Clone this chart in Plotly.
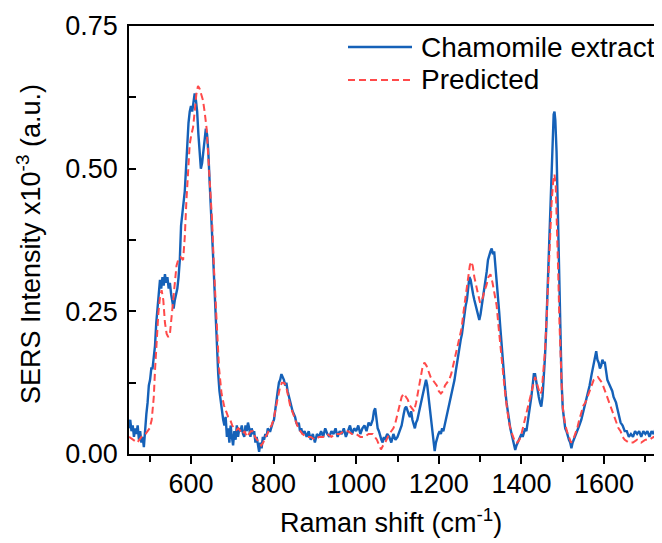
import plotly.graph_objects as go

# ---- Data ----
extract_x = [450,453,456,459,462,465,468,471,474,477,480,483,486,489,492,495,498,501,504,507,
             510,513,516,519,522,525,528,531,534,537,540,543,546,549,552,555,558,561,564,567,
             570,573,576,579,582,585,588,591,594,597,600,603,606,609,612,615,618,621,624,627,
             630,633,636,639,642,645,648,651,654,657,660,663,666,669,672,675,678,681,684,687,
             690,693,696,699,702,705,708,711,714,717,720,723,726,729,732,735,738,741,744,747,
             750,753,756,759,762,765,768,771,774,777,780,783,786,789,792,795,798,801,804,807,
             810,813,816,819,822,825,828,831,834,837,840,843,846,849,852,855,858,861,864,867,
             870,875,880,885,890,895,900,905,910,915,920,925,930,935,940,945,950,955,960,965,
             970,975,980,985,990,995,1000,1005,1010,1015,1020,1025,1030,1035,1040,1043,1046,1049,1052,1055,
             1058,1061,1064,1067,1070,1075,1080,1085,1090,1095,1100,1105,1110,1115,1118,1121,1124,1127,1130,1133,
             1136,1139,1142,1145,1148,1151,1154,1157,1160,1163,1166,1169,1172,1175,1178,1181,1184,1187,1190,1193,
             1196,1199,1202,1205,1208,1211,1214,1217,1220,1223,1226,1229,1232,1235,1238,1241,1244,1247,1250,1253,
             1256,1259,1262,1265,1268,1271,1274,1277,1280,1283,1286,1289,1292,1295,1298,1301,1304,1307,1310,1313,
             1316,1319,1322,1325,1328,1331,1334,1337,1340,1343,1346,1349,1352,1355,1358,1361,1364,1367,1370,1373,
             1376,1379,1382,1385,1388,1391,1394,1397,1400,1403,1406,1409,1412,1415,1418,1421,1424,1427,1430,1433,
             1436,1439,1442,1445,1448,1451,1454,1457,1460,1463,1466,1469,1472,1475,1478,1480,1482,1485,1488,1491,
             1494,1497,1500,1503,1506,1509,1512,1515,1518,1521,1524,1527,1530,1535,1540,1545,1550,1555,1560,1565,
             1570,1575,1578,1581,1584,1587,1590,1593,1596,1599,1602,1605,1608,1611,1614,1617,1620,1623,1626,1629,
             1632,1635,1640,1645,1650,1655,1660,1665,1670,1675,1680,1685,1690,1695,1700,1705,1710,1715,1720,1725,
             1730,1735]
extract_y = [0.045,0.06,0.04,0.05,0.03,0.045,0.035,0.05,0.025,0.04,0.02,0.03,0.012,0.05,0.07,0.09,0.12,0.13,0.15,0.15,
             0.17,0.19,0.23,0.26,0.29,0.305,0.29,0.31,0.295,0.315,0.30,0.31,0.29,0.30,0.28,0.27,0.255,0.27,0.28,0.29,
             0.31,0.34,0.40,0.42,0.43,0.46,0.50,0.55,0.58,0.60,0.61,0.60,0.62,0.632,0.62,0.60,0.56,0.53,0.50,0.51,
             0.53,0.55,0.57,0.56,0.53,0.48,0.44,0.40,0.34,0.29,0.23,0.18,0.14,0.11,0.09,0.07,0.06,0.05,0.065,0.03,
             0.045,0.02,0.05,0.03,0.015,0.04,0.025,0.05,0.03,0.045,0.04,0.05,0.035,0.03,0.05,0.04,0.055,0.045,0.03,0.045,
             0.035,0.04,0.02,0.03,0.015,0.004,0.02,0.01,0.03,0.025,0.035,0.03,0.045,0.04,0.04,0.05,0.055,0.06,0.08,0.095,
             0.11,0.125,0.13,0.14,0.135,0.13,0.12,0.125,0.11,0.10,0.09,0.085,0.075,0.07,0.065,0.055,0.05,0.055,0.04,0.045,
             0.035,0.04,0.03,0.04,0.025,0.035,0.02,0.035,0.03,0.04,0.03,0.045,0.035,0.03,0.04,0.035,0.045,0.03,0.04,0.035,
             0.045,0.03,0.04,0.05,0.035,0.045,0.04,0.05,0.035,0.045,0.05,0.04,0.055,0.05,0.06,0.075,0.08,0.06,0.045,0.04,
             0.03,0.025,0.02,0.03,0.025,0.035,0.03,0.02,0.035,0.025,0.03,0.04,0.05,0.07,0.08,0.083,0.075,0.07,0.065,0.075,
             0.06,0.05,0.045,0.055,0.06,0.07,0.08,0.09,0.10,0.115,0.125,0.13,0.12,0.10,0.08,0.06,0.04,0.02,0.005,0.02,
             0.03,0.035,0.04,0.035,0.045,0.04,0.05,0.06,0.065,0.08,0.09,0.10,0.11,0.12,0.13,0.145,0.16,0.175,0.19,0.20,
             0.21,0.23,0.24,0.26,0.27,0.29,0.31,0.305,0.29,0.28,0.27,0.26,0.255,0.24,0.235,0.245,0.26,0.27,0.29,0.30,
             0.32,0.34,0.35,0.355,0.36,0.35,0.355,0.33,0.31,0.29,0.25,0.22,0.19,0.16,0.13,0.11,0.09,0.07,0.06,0.045,
             0.035,0.03,0.02,0.007,0.015,0.02,0.025,0.03,0.035,0.03,0.04,0.045,0.04,0.055,0.065,0.08,0.10,0.12,0.14,0.14,
             0.125,0.11,0.10,0.09,0.083,0.10,0.13,0.17,0.22,0.28,0.34,0.41,0.49,0.55,0.595,0.60,0.585,0.53,0.42,0.30,
             0.20,0.13,0.08,0.06,0.045,0.04,0.03,0.025,0.02,0.01,0.02,0.025,0.03,0.04,0.05,0.06,0.075,0.085,0.10,0.12,
             0.14,0.16,0.175,0.18,0.165,0.16,0.15,0.155,0.165,0.16,0.16,0.14,0.13,0.125,0.12,0.115,0.11,0.10,0.095,0.09,
             0.08,0.07,0.055,0.05,0.04,0.04,0.03,0.035,0.03,0.04,0.035,0.04,0.03,0.04,0.035,0.04,0.03,0.04,0.035,0.045,
             0.035,0.04]

predicted_x = [450,460,470,480,490,495,500,505,510,513,517,521,525,529,533,537,541,545,549,553,
               557,561,565,569,575,581,585,589,593,597,601,605,609,613,617,621,625,629,633,638,
               642,646,651,656,662,668,674,680,685,690,695,700,705,710,715,720,725,730,735,740,
               745,750,755,760,765,770,775,780,785,790,795,800,805,810,815,820,825,830,835,840,
               845,850,855,860,870,880,890,900,910,920,930,940,950,960,970,980,990,1000,1010,1020,
               1030,1040,1050,1055,1060,1065,1070,1080,1090,1095,1100,1105,1110,1115,1120,1125,1130,1135,1140,1145,
               1150,1155,1160,1165,1170,1175,1180,1185,1190,1195,1200,1205,1210,1215,1220,1225,1230,1235,1240,1245,
               1250,1255,1260,1265,1270,1275,1278,1282,1286,1290,1295,1300,1305,1310,1315,1320,1325,1330,1335,1340,
               1345,1350,1355,1360,1365,1370,1375,1380,1385,1390,1395,1400,1405,1410,1415,1420,1425,1430,1433,1437,
               1441,1445,1449,1453,1457,1461,1465,1469,1473,1477,1480,1483,1486,1489,1492,1495,1498,1501,1505,1510,
               1515,1520,1525,1530,1535,1540,1545,1550,1555,1560,1565,1570,1575,1580,1585,1590,1595,1600,1605,1610,
               1615,1620,1625,1630,1635,1640,1645,1650,1660,1670,1680,1690,1700,1710,1720,1730,1735]
predicted_y = [0.03,0.025,0.02,0.03,0.035,0.04,0.045,0.06,0.10,0.147,0.20,0.246,0.275,0.287,0.27,0.23,0.211,0.205,0.21,0.24,
               0.27,0.30,0.33,0.34,0.345,0.34,0.38,0.444,0.50,0.543,0.56,0.572,0.60,0.63,0.645,0.64,0.63,0.62,0.60,0.57,
               0.52,0.47,0.41,0.32,0.22,0.15,0.106,0.085,0.075,0.065,0.06,0.05,0.045,0.042,0.045,0.04,0.035,0.04,0.03,0.035,
               0.04,0.04,0.03,0.025,0.02,0.015,0.02,0.03,0.035,0.045,0.05,0.06,0.08,0.10,0.115,0.125,0.125,0.12,0.10,0.085,
               0.075,0.065,0.055,0.045,0.035,0.03,0.03,0.025,0.03,0.03,0.035,0.03,0.035,0.035,0.04,0.04,0.035,0.035,0.03,0.03,
               0.035,0.035,0.025,0.015,0.008,0.015,0.02,0.035,0.045,0.055,0.07,0.085,0.10,0.106,0.10,0.095,0.085,0.08,0.075,0.09,
               0.11,0.13,0.15,0.16,0.155,0.145,0.135,0.13,0.125,0.12,0.11,0.106,0.11,0.12,0.125,0.13,0.14,0.155,0.17,0.185,
               0.20,0.22,0.25,0.28,0.31,0.33,0.337,0.33,0.31,0.295,0.28,0.265,0.27,0.285,0.295,0.31,0.315,0.30,0.28,0.26,
               0.22,0.18,0.14,0.11,0.08,0.055,0.04,0.03,0.02,0.02,0.025,0.035,0.05,0.065,0.08,0.095,0.11,0.13,0.135,0.125,
               0.115,0.105,0.11,0.14,0.18,0.24,0.31,0.38,0.44,0.48,0.49,0.47,0.41,0.32,0.23,0.16,0.11,0.075,0.055,0.04,
               0.03,0.02,0.025,0.035,0.045,0.06,0.075,0.085,0.09,0.10,0.11,0.12,0.13,0.133,0.135,0.13,0.125,0.115,0.105,0.095,
               0.085,0.075,0.065,0.055,0.045,0.04,0.03,0.025,0.02,0.02,0.025,0.02,0.025,0.025,0.03,0.025,0.03]

series_names = ["Chamomile extract", "Predicted"]
x_range = [450, 1733]
y_range = [0, 0.75]
x_major = [600, 800, 1000, 1200, 1400, 1600]
y_major = [0.00, 0.25, 0.50, 0.75]

FONT = "Arial, Liberation Sans, sans-serif"
BLUE = "#1561b8"
RED = "#ff4a4a"

# The page body adds an 8px offset, so the figure is 8px smaller and all
# screen positions below are given relative to the figure origin.
OFF = 8
W, H = 662 - OFF, 543 - OFF
ML, MR, MT, MB = 129 - OFF, 3, 26 - OFF, 89
PW = W - ML - MR
PH = H - MT - MB


def px_x(p):
    return (p - OFF - ML) / PW


def px_y(p):
    return (H - MB - (p - OFF)) / PH


fig = go.Figure()
fig.add_trace(go.Scatter(
    x=extract_x, y=extract_y, mode="lines", name=series_names[0],
    line=dict(color=BLUE, width=2.4), showlegend=False,
))
fig.add_trace(go.Scatter(
    x=predicted_x, y=predicted_y, mode="lines", name=series_names[1],
    line=dict(color=RED, width=2, dash="7px,4px"), showlegend=False,
))

fig.update_layout(
    width=W, height=H,
    margin=dict(l=ML, r=MR, t=MT, b=MB),
    paper_bgcolor="white", plot_bgcolor="white",
    font=dict(family=FONT, size=27, color="black"),
    showlegend=False,
)

fig.update_xaxes(
    range=x_range, tickvals=x_major, ticktext=[str(v) for v in x_major],
    ticks="outside", ticklen=8, tickwidth=1.5, tickcolor="black",
    minor=dict(dtick=100, tick0=500, ticks="outside", ticklen=6, tickwidth=1.5, tickcolor="black"),
    showline=True, linecolor="black", linewidth=1.5, mirror=True,
    showgrid=False, zeroline=False, automargin=False,
    tickfont=dict(size=27), ticklabelstandoff=-3,
)
fig.update_yaxes(
    range=y_range, tickvals=y_major, ticktext=["%.2f" % v for v in y_major],
    ticks="inside", ticklen=7, tickwidth=1.5, tickcolor="black",
    minor=dict(dtick=0.125, tick0=0, ticks="inside", ticklen=7, tickwidth=1.5, tickcolor="black"),
    showline=True, linecolor="black", linewidth=1.5, mirror=False,
    showgrid=False, zeroline=False, automargin=False,
    tickfont=dict(size=27), ticklabelstandoff=4,
)
# faint right frame edge
fig.add_shape(type="line", xref="paper", yref="paper", x0=1, x1=1, y0=0, y1=1,
              line=dict(color="#cfcfcf", width=1))

# axis titles
fig.add_annotation(xref="paper", yref="paper", x=px_x(391), y=px_y(521),
                   xanchor="center", yanchor="middle", showarrow=False,
                   text="Raman shift (cm<sup>-1</sup>)", font=dict(size=27))
fig.add_annotation(xref="paper", yref="paper", x=px_x(29), y=px_y(244),
                   xanchor="center", yanchor="middle", showarrow=False, textangle=-90,
                   text="SERS Intensity x10<sup>-3</sup> (a.u.)", font=dict(size=27))

# legend drawn by hand (long line samples as in the reference)
leg_rows = [47, 80]
leg_styles = [dict(color=BLUE, width=2.4), dict(color=RED, width=2, dash="7px,4px")]
for name, ypx, st in zip(series_names, leg_rows, leg_styles):
    fig.add_shape(type="line", xref="paper", yref="paper",
                  x0=px_x(348), x1=px_x(412), y0=px_y(ypx), y1=px_y(ypx), line=st)
    fig.add_annotation(xref="paper", yref="paper", x=px_x(419), y=px_y(ypx),
                       xanchor="left", yanchor="middle", showarrow=False,
                       text=name, font=dict(size=28))

fig.write_html("out.html")
